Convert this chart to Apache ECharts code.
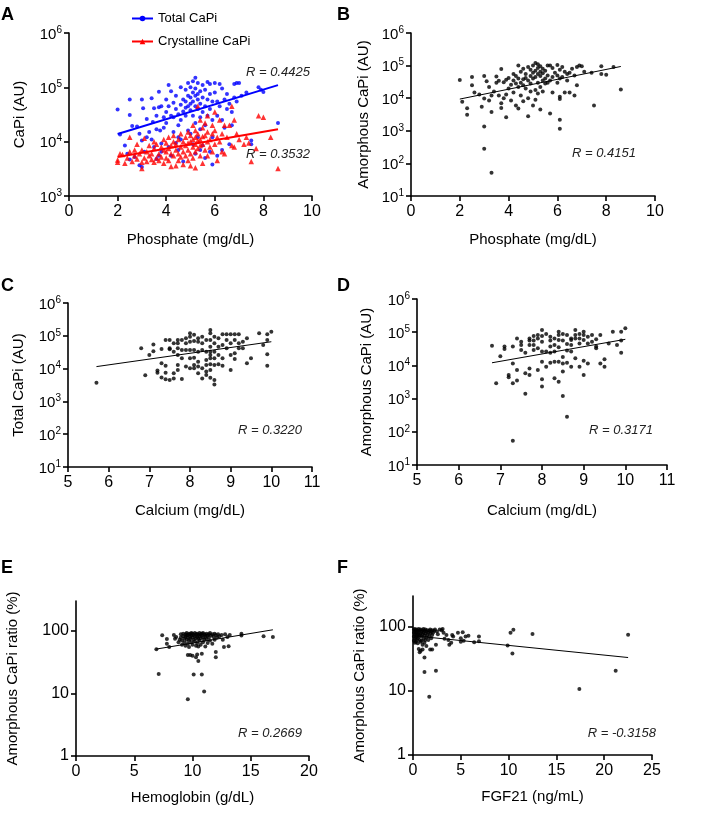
<!DOCTYPE html>
<html><head><meta charset="utf-8">
<script src="https://cdn.jsdelivr.net/npm/echarts@6/dist/echarts.min.js"></script>
<style>html,body{margin:0;padding:0;background:#fff}#c{width:709px;height:813px}</style>
</head><body><div id="c"></div>
<script>
// ---------- DATA ----------
// Panel A: Total CaPi vs phosphate
const totalVsPhosphate = [[2.0,39000],[2.1,13500],[2.3,8500],[2.4,6000],[2.5,60000],[2.5,31000],[2.6,19500],[2.5,4700],[2.8,19000],[2.9,14000],[3.0,60000],[3.0,10500],[2.9,3700],[3.0,3400],[3.05,41000],[2.7,5200],[3.1,6500],[3.2,12000],
[3.4,63000],[3.5,41000],[3.45,23000],[3.6,17000],[3.7,83000],[3.7,43000],[3.8,45000],[3.8,9300],[3.6,4800],[3.7,5500],[3.3,15000],[3.9,28000],[3.9,18000],[3.5,8000],[3.4,11000],[3.6,30000],[3.75,16000],[3.8,6500],[3.2,26000],
[4.0,60000],[4.1,45000],[4.1,110000],[4.2,85000],[4.0,35000],[4.2,30000],[4.3,52000],[4.3,28000],[4.4,40000],[4.4,70000],[4.5,32000],[4.5,20000],[4.5,12000],[4.6,100000],[4.6,48000],[4.6,25000],[4.7,60000],[4.7,36000],[4.7,4300],[4.8,90000],[4.8,55000],[4.8,42000],[4.8,30000],[4.9,120000],[4.9,70000],[4.9,45000],[4.9,16000],[4.4,9500],[4.2,5500],[4.5,7000],[4.3,15000],[4.0,22000],[4.1,8000],[4.6,11000],
[5.0,100000],[5.0,65000],[5.0,50000],[5.0,38000],[5.1,130000],[5.1,80000],[5.1,55000],[5.1,30000],[5.2,150000],[5.2,95000],[5.2,70000],[5.2,45000],[5.2,22000],[5.3,120000],[5.3,75000],[5.3,60000],[5.3,40000],[5.3,12000],[5.4,85000],[5.4,50000],[5.4,28000],[5.4,17000],[5.5,110000],[5.5,65000],[5.5,35000],[5.5,8500],[5.6,90000],[5.6,45000],[5.6,20000],[5.7,125000],[5.7,60000],[5.7,30000],[5.8,115000],[5.8,75000],[5.8,40000],[5.9,55000],[5.9,25000],[5.9,12000],[5.0,14000],[5.1,9000],[5.2,6000],[5.4,7000],[5.6,5000],[5.8,6500],[5.9,3800],
[6.0,120000],[6.0,80000],[6.1,55000],[6.1,30000],[6.1,5500],[6.2,115000],[6.2,45000],[6.3,95000],[6.3,25000],[6.4,60000],[6.4,18000],[6.5,75000],[6.5,40000],[6.6,50000],[6.7,20000],[6.7,35000],[6.8,115000],[6.8,65000],[6.9,120000],[6.9,55000],[7.0,120000],[6.6,9000],[6.3,7000],
[7.1,70000],[7.3,80000],[7.5,10500],[7.5,9000],[7.8,100000],[7.9,90000],[8.0,82000],[8.6,22000]];
// Panel A: Crystalline CaPi vs phosphate
const crystVsPhosphate = [[2.0,4200],[2.0,4600],[2.1,6000],[2.2,5800],[2.3,4000],[2.4,5000],[2.5,12000],[2.5,6500],[2.6,4300],[2.7,5500],[2.7,7000],[2.8,4800],[2.8,9000],[2.9,6000],[3.0,3200],[3.0,4200],[3.0,7000],[3.1,5000],[3.1,11500],[3.2,6500],[3.2,4300],[3.3,5500],[3.3,8500],[3.4,4700],[3.4,6000],[3.5,7500],[3.5,4200],[3.5,10000],[3.6,5000],[3.6,9000],[3.7,6000],[3.7,4500],[3.8,8000],[3.8,5200],[3.9,7000],[3.9,11000],[3.9,4000],[4.0,6500],[4.0,9500],[4.0,5000],[4.1,12000],[4.1,7500],[4.1,4500],[4.2,8500],[4.2,6000],[4.2,3500],[4.3,10000],[4.3,5500],[4.3,13000],[4.4,7000],[4.4,3600],[4.4,9000],[4.5,6000],[4.5,11000],[4.5,4500],[4.6,8000],[4.6,5200],[4.6,14000],[4.7,10000],[4.7,6500],[4.7,3800],[4.8,12000],[4.8,8500],[4.8,5500],[4.9,15000],[4.9,9500],[4.9,7000],[4.9,4500],[5.0,13000],[5.0,10000],[5.0,6000],[5.0,3600],[5.1,20000],[5.1,11000],[5.1,8000],[5.1,5000],[5.2,16000],[5.2,12000],[5.2,9000],[5.2,6500],[5.2,3300],[5.3,45000],[5.3,14000],[5.3,10500],[5.3,7500],[5.4,25000],[5.4,11000],[5.4,8500],[5.4,5500],[5.5,18000],[5.5,12500],[5.5,9000],[5.5,4000],[5.6,22000],[5.6,13000],[5.6,7000],[5.7,30000],[5.7,15000],[5.7,10000],[5.7,5500],[5.8,11000],[5.8,8000],[5.9,20000],[5.9,14000],[5.9,6500],[6.0,35000],[6.0,16000],[6.0,9000],[6.1,12000],[6.1,4500],[6.2,25000],[6.2,10000],[6.3,14000],[6.3,6500],[6.4,20000],[6.4,6000],[6.5,12000],[6.6,20000],[6.7,45000],[6.7,8500],[6.8,25000],[6.8,8000],[6.9,14000],[7.0,11000],[7.2,9000],[7.3,12000],[7.4,9500],[7.5,4300],[7.7,7500],[7.8,30000],[8.0,28000],[8.3,12000],[8.6,3200]];
const trendTotalPhos = [[2.0,13800],[8.6,110000]];
const trendCrystPhos = [[2.0,5200],[8.6,17000]];

// Panel B: Amorphous CaPi vs phosphate
const amorVsPhosphate = [[2.0,36000],[2.1,7800],[2.3,4900],[2.3,3100],[2.5,45000],[2.5,25000],[2.6,15000],[2.8,13000],[2.9,5500],[3.0,48000],[3.0,9800],[3.0,1350],[3.0,280],[3.1,33000],[3.2,22000],[3.3,12000],[3.3,3800],[3.3,52],[3.2,8500],[3.4,16000],[3.5,46000],[3.5,30000],[3.6,34000],[3.6,12000],[3.7,78000],[3.7,7000],[3.7,5000],[3.8,31000],[3.8,10000],[3.9,37000],[3.9,2600],[3.9,13000],[4.0,42000],[4.0,20000],[4.1,26000],[4.1,8500],[4.2,55000],[4.2,35000],[4.2,15000],[4.3,48000],[4.3,28000],[4.3,6000],[4.4,100000],[4.4,40000],[4.4,22000],[4.4,4800],[4.5,65000],[4.5,30000],[4.5,12000],[4.6,80000],[4.6,38000],[4.6,25000],[4.6,8000],[4.7,55000],[4.7,42000],[4.7,20000],[4.8,90000],[4.8,35000],[4.8,2800],[4.8,10000],[4.9,75000],[4.9,48000],[4.9,28000],[4.9,16000],[5.0,100000],[5.0,60000],[5.0,40000],[5.0,6000],[5.1,120000],[5.1,70000],[5.1,45000],[5.1,18000],[5.1,9000],[5.2,110000],[5.2,85000],[5.2,55000],[5.2,30000],[5.2,14000],[5.3,95000],[5.3,65000],[5.3,48000],[5.3,22000],[5.3,4500],[5.4,80000],[5.4,58000],[5.4,35000],[5.4,16000],[5.5,70000],[5.5,40000],[5.5,28000],[5.6,100000],[5.6,50000],[5.6,30000],[5.7,100000],[5.7,35000],[5.7,3400],[5.8,85000],[5.8,45000],[5.8,15000],[5.9,60000],[6.0,105000],[6.0,50000],[6.0,30000],[6.1,75000],[6.1,40000],[6.1,11000],[6.1,9500],[6.1,2200],[6.1,1150],[6.2,90000],[6.2,45000],[6.3,65000],[6.3,15000],[6.4,55000],[6.4,35000],[6.5,60000],[6.5,15000],[6.6,80000],[6.7,50000],[6.7,12000],[6.8,25000],[6.8,90000],[6.9,100000],[7.0,95000],[7.1,65000],[7.4,60000],[7.5,6000],[7.8,95000],[7.8,55000],[8.0,52000],[8.3,90000],[8.6,18500]];
const trendAmorPhos = [[2.0,9400],[8.6,94000]];

// Panel C: Total CaPi vs calcium
const totalVsCalcium = [[5.7,3700],[6.8,42000],[6.9,6300],[7.0,26000],[7.1,54000],[7.1,34000],[7.2,8700],[7.2,7500],[7.3,39600],[7.3,14500],[7.3,5400],[7.4,74500],[7.4,12300],[7.4,7500],[7.4,4700],[7.5,74500],[7.5,41500],[7.5,38700],[7.5,4500],[7.6,59000],[7.6,32800],[7.6,7200],[7.6,5000],[7.7,74500],[7.7,59000],[7.7,41500],[7.7,26000],[7.7,12900],[7.7,9100],[7.8,74500],[7.8,36900],[7.8,20600],[7.8,4800],[7.9,84000],[7.9,59000],[7.9,36900],[7.9,11500],[8.0,119000],[8.0,94000],[8.0,66000],[8.0,36900],[8.0,20600],[8.0,10200],[8.1,108000],[8.1,69500],[8.1,36900],[8.1,21500],[8.1,12900],[8.1,10200],[8.2,84000],[8.2,66000],[8.2,32800],[8.2,16300],[8.2,11500],[8.2,7200],[8.3,94000],[8.3,59000],[8.3,36900],[8.3,10200],[8.3,5000],[8.4,74500],[8.4,32800],[8.4,18300],[8.4,12900],[8.4,8100],[8.4,6400],[8.5,150000],[8.5,119000],[8.5,74500],[8.5,46700],[8.5,32800],[8.5,26000],[8.5,20600],[8.5,13500],[8.5,9100],[8.5,5300],[8.6,4500],[8.6,3300],[8.6,94000],[8.6,59000],[8.6,32800],[8.6,20600],[8.6,12900],[8.7,84000],[8.7,46700],[8.7,26000],[8.7,13500],[8.8,111000],[8.8,52000],[8.8,20600],[8.8,12300],[8.9,111000],[8.9,74500],[8.9,41500],[9.0,111000],[9.0,59000],[9.0,26000],[9.0,9100],[9.1,111000],[9.1,74500],[9.1,29200],[9.1,19600],[9.2,111000],[9.2,59000],[9.2,41500],[9.3,66000],[9.3,41500],[9.4,84000],[9.4,14500],[9.5,20600],[9.7,119000],[9.8,52000],[9.9,111000],[9.9,74500],[9.9,27200],[9.9,12300],[10.0,134000]];
const trendTotalCa = [[5.7,11500],[10.0,66000]];

// Panel D: Amorphous CaPi vs calcium
const amorVsCalcium = [[6.8,39000],[6.9,2900],[7.0,19000],[7.1,37000],[7.1,31000],[7.2,5100],[7.2,4400],[7.3,37000],[7.3,11500],[7.3,2900],[7.4,3500],[7.4,65000],[7.4,7300],[7.5,52000],[7.5,41000],[7.5,29000],[7.6,24000],[7.6,5800],[7.6,1400],[7.7,65000],[7.7,56000],[7.7,41000],[7.7,8100],[7.7,5100],[7.8,77000],[7.8,56000],[7.8,41000],[7.8,29000],[7.9,82000],[7.9,65000],[7.9,33000],[7.9,7300],[8.0,116000],[8.0,77000],[8.0,52000],[8.0,26000],[8.0,12900],[8.0,3800],[8.0,2300],[8.1,88000],[8.1,26000],[8.1,9100],[8.2,73000],[8.2,56000],[8.2,37000],[8.2,24000],[8.2,12100],[8.3,65000],[8.3,41000],[8.3,26000],[8.3,12900],[8.3,4100],[8.4,104000],[8.4,82000],[8.4,58000],[8.4,35000],[8.4,12900],[8.4,3200],[8.5,88000],[8.5,56000],[8.5,18000],[8.5,11500],[8.5,6500],[8.5,1200],[8.6,82000],[8.6,44000],[8.6,28000],[8.6,12100],[8.6,285],[8.7,65000],[8.7,58000],[8.7,41000],[8.7,26000],[8.7,9100],[8.8,116000],[8.8,82000],[8.8,65000],[8.8,16300],[8.9,88000],[8.9,65000],[8.9,46000],[8.9,9100],[9.0,104000],[9.0,82000],[9.0,58000],[9.0,5100],[9.0,13900],[9.1,73000],[9.1,46000],[9.1,11500],[9.2,82000],[9.2,52000],[9.3,61000],[9.3,37000],[9.3,33000],[9.4,82000],[9.4,11500],[9.5,15200],[9.5,9100],[9.6,46000],[9.7,104000],[9.8,41000],[9.9,104000],[9.9,56000],[9.9,24000],[10.0,131000],[7.3,54]];
const trendAmorCa = [[6.8,12000],[10.0,61000]];

// Panel E: Amorphous CaPi ratio vs hemoglobin
const ratioVsHb = [[6.9,51],[7.1,20.5],[7.4,85],[7.8,74],[7.8,62],[8.0,55],[8.4,86],[8.5,75],[8.6,80],[8.8,66],[8.9,72],[9.0,88],[9.0,78],[9.1,70],[9.1,60],[9.2,90],[9.2,82],[9.3,75],[9.3,65],[9.4,88],[9.4,80],[9.4,58],[9.5,92],[9.5,84],[9.5,72],[9.6,86],[9.6,78],[9.6,62],[9.6,41],[9.6,8.1],[9.7,90],[9.7,70],[9.7,55],[9.8,88],[9.8,80],[9.8,74],[9.8,41],[9.9,92],[9.9,84],[9.9,66],[10.0,90],[10.0,78],[10.0,60],[10.0,40],[10.1,86],[10.1,72],[10.1,20],[10.2,92],[10.2,82],[10.2,68],[10.3,88],[10.3,76],[10.3,58],[10.3,38],[10.4,90],[10.4,80],[10.4,64],[10.4,42],[10.5,86],[10.5,74],[10.5,56],[10.5,33],[10.6,92],[10.6,82],[10.6,70],[10.7,88],[10.7,76],[10.7,60],[10.8,90],[10.8,84],[10.8,20],[10.8,43],[10.9,92],[10.9,78],[10.9,66],[11.0,88],[11.0,72],[11.0,10.7],[11.1,86],[11.1,80],[11.1,56],[11.2,90],[11.2,74],[11.3,84],[11.3,64],[11.4,88],[11.4,78],[11.5,92],[11.5,70],[11.6,84],[11.7,88],[11.7,62],[11.8,80],[11.9,90],[11.9,72],[12.0,86],[12.0,46],[12.0,38],[12.1,78],[12.2,88],[12.3,82],[12.5,86],[12.6,72],[12.7,55],[12.8,88],[13.0,80],[13.1,57],[13.2,86],[14.2,90],[14.2,84],[16.1,82],[16.9,80]];
const trendRatioHb = [[6.85,51],[16.9,104]];

// Panel F: Amorphous CaPi ratio vs FGF21
const ratioVsFgf21 = [[0.1,90],[0.1,80],[0.1,70],[0.1,60],[0.2,92],[0.2,85],[0.2,75],[0.2,65],[0.2,56],[0.3,88],[0.3,78],[0.3,68],[0.3,58],[0.4,90],[0.4,82],[0.4,72],[0.4,62],[0.5,86],[0.5,76],[0.5,66],[0.5,55],[0.6,92],[0.6,80],[0.6,70],[0.6,45],[0.7,88],[0.7,74],[0.7,62],[0.7,40],[0.8,90],[0.8,78],[0.8,58],[0.8,42],[0.9,84],[0.9,70],[0.9,60],[1.0,88],[1.0,76],[1.0,52],[1.0,44],[1.1,92],[1.1,80],[1.1,64],[1.2,86],[1.2,72],[1.2,56],[1.2,33],[1.2,19.6],[1.3,90],[1.3,78],[1.3,62],[1.4,84],[1.4,68],[1.4,50],[1.5,88],[1.5,74],[1.6,80],[1.6,62],[1.7,8.1],[1.7,86],[1.7,70],[1.8,90],[1.8,78],[1.8,44],[1.9,84],[1.9,66],[2.0,88],[2.0,74],[2.0,44],[2.1,80],[2.2,86],[2.3,90],[2.4,52],[2.4,20.5],[2.5,84],[2.6,76],[2.8,90],[3.0,88],[3.1,92],[3.2,80],[3.3,65],[3.5,74],[3.7,62],[3.8,52],[4.0,56],[4.1,74],[4.2,70],[4.7,80],[5.0,66],[5.0,58],[5.2,82],[5.3,60],[5.5,70],[5.8,72],[6.4,57],[6.9,70],[6.9,59],[9.9,51],[10.2,80],[10.4,38],[10.5,89],[12.5,77],[17.4,10.7],[21.2,20.5],[22.5,75]];
const trendRatioFgf = [[0.1,72],[22.5,33]];

// Labels
const panelLetters = ['A','B','C','D','E','F'];
const rLabels = ['R = 0.4425','R = 0.3532','R = 0.4151','R = 0.3220','R = 0.3171','R = 0.2669','R = -0.3158'];

// ---------- CHART ----------
const FONT = '"Liberation Sans", Arial, Helvetica, sans-serif';
const chart = echarts.init(document.getElementById('c'), null, {renderer: 'canvas'});

const grids = [
  {left: 69,  top: 33,  width: 243, height: 163},
  {left: 411, top: 33,  width: 244, height: 163},
  {left: 68,  top: 303, width: 244, height: 164},
  {left: 417, top: 299, width: 250, height: 166},
  {left: 76,  top: 601, width: 233, height: 155},
  {left: 413, top: 596, width: 239, height: 159}
];

const lineStyleAxis = {color: '#000', width: 1.6};
function mkX(i, min, max, interval, name, gap) {
  return {
    gridIndex: i, type: 'value', min: min, max: max, interval: interval,
    name: name, nameLocation: 'middle', nameGap: gap,
    nameTextStyle: {fontFamily: FONT, fontSize: 15, color: '#000'},
    axisLine: {show: true, lineStyle: lineStyleAxis},
    axisTick: {show: true, length: 5, lineStyle: lineStyleAxis},
    axisLabel: {fontFamily: FONT, fontSize: 16, color: '#000', margin: 8},
    splitLine: {show: false}
  };
}
function supLabel(v) {
  const e = Math.round(Math.log10(v));
  return '{b|10}{s|' + e + '}';
}
function mkYPow(i, min, max, decades, name, gap) {
  return {
    gridIndex: i, type: 'log', logBase: 10, min: min, max: max, splitNumber: decades,
    name: name, nameLocation: 'middle', nameGap: gap,
    nameTextStyle: {fontFamily: FONT, fontSize: 15, color: '#000'},
    axisLine: {show: true, lineStyle: lineStyleAxis},
    axisTick: {show: true, length: 5, lineStyle: lineStyleAxis},
    minorTick: {show: false},
    axisLabel: {
      formatter: supLabel, margin: 7,
      rich: {
        b: {fontFamily: FONT, fontSize: 15, color: '#000', verticalAlign: 'bottom', lineHeight: 18},
        s: {fontFamily: FONT, fontSize: 10, color: '#000', verticalAlign: 'bottom', lineHeight: 18, padding: [0, 0, 7, 0]}
      }
    },
    splitLine: {show: false}
  };
}
function mkYRatio(i, name, gap) {
  return {
    gridIndex: i, type: 'log', logBase: 10, min: 1, max: 300,
    name: name, nameLocation: 'middle', nameGap: gap,
    nameTextStyle: {fontFamily: FONT, fontSize: 15, color: '#000'},
    axisLine: {show: true, lineStyle: lineStyleAxis},
    axisTick: {show: true, length: 5, lineStyle: lineStyleAxis, customValues: [1, 10, 100]},
    axisLabel: {fontFamily: FONT, fontSize: 16, color: '#000', margin: 7, customValues: [1, 10, 100]},
    splitLine: {show: false}
  };
}

function scatter(name, xi, data, color, symbol, size) {
  return {name: name, type: 'scatter', xAxisIndex: xi, yAxisIndex: xi, data: data,
    symbol: symbol, symbolSize: size, itemStyle: {color: color}, z: 2, silent: true};
}
function trend(name, xi, data, color, width, sym) {
  return {name: name, type: 'line', xAxisIndex: xi, yAxisIndex: xi, data: data,
    symbol: sym || 'none', symbolSize: 5, showSymbol: false,
    lineStyle: {color: color, width: width}, itemStyle: {color: color}, z: 3, silent: true, animation: false};
}

const graphics = [];
const letterPos = [[1,6],[337,6],[1,277],[337,277],[1,559],[337,559]];
panelLetters.forEach((t, k) => graphics.push({type: 'text', x: letterPos[k][0], y: letterPos[k][1],
  style: {text: t, font: 'bold 18px ' + FONT, fill: '#000'}}));
const rPos = [[310,72],[310,154],[636,153],[302,430],[653,430],[302,733],[656,733]];
rLabels.forEach((t, k) => graphics.push({type: 'text', x: rPos[k][0], y: rPos[k][1],
  style: {text: t, font: 'italic 13px ' + FONT, fill: '#222', align: 'right', verticalAlign: 'middle'}}));

chart.setOption({
  animation: false,
  backgroundColor: '#fff',
  grid: grids,
  legend: {
    data: ['Total CaPi', 'Crystalline CaPi'], orient: 'vertical', left: 126, top: 7,
    itemWidth: 21, itemHeight: 7, itemGap: 10,
    textStyle: {fontFamily: FONT, fontSize: 13, color: '#000'}
  },
  xAxis: [
    mkX(0, 0, 10, 2, 'Phosphate (mg/dL)', 36),
    mkX(1, 0, 10, 2, 'Phosphate (mg/dL)', 36),
    mkX(2, 5, 11, 1, 'Calcium (mg/dL)', 36),
    mkX(3, 5, 11, 1, 'Calcium (mg/dL)', 38),
    mkX(4, 0, 20, 5, 'Hemoglobin (g/dL)', 34),
    mkX(5, 0, 25, 5, 'FGF21 (ng/mL)', 34)
  ],
  yAxis: [
    mkYPow(0, 1000, 1000000, 3, 'CaPi (AU)', 42),
    mkYPow(1, 10, 1000000, 5, 'Amorphous CaPi (AU)', 40),
    mkYPow(2, 10, 1000000, 5, 'Total CaPi (AU)', 42),
    mkYPow(3, 10, 1000000, 5, 'Amorphous CaPi (AU)', 43),
    mkYRatio(4, 'Amorphous CaPi ratio (%)', 56),
    mkYRatio(5, 'Amorphous CaPi ratio (%)', 46)
  ],
  graphic: graphics,
  series: [
    trend('Total CaPi', 0, trendTotalPhos, '#0000ff', 2, 'circle'),
    trend('Crystalline CaPi', 0, trendCrystPhos, '#ff0000', 2, 'triangle'),
    scatter('Total CaPi', 0, totalVsPhosphate, '#0000ff', 'circle', 4),
    scatter('Crystalline CaPi', 0, crystVsPhosphate, '#ff0000', 'triangle', 5.5),
    scatter('Amorphous CaPi', 1, amorVsPhosphate, '#000', 'circle', 4),
    trend('Amorphous fit B', 1, trendAmorPhos, '#000', 1),
    scatter('Total CaPi (Ca)', 2, totalVsCalcium, '#000', 'circle', 4),
    trend('Total fit C', 2, trendTotalCa, '#000', 1),
    scatter('Amorphous CaPi (Ca)', 3, amorVsCalcium, '#000', 'circle', 4),
    trend('Amorphous fit D', 3, trendAmorCa, '#000', 1),
    scatter('Ratio (Hb)', 4, ratioVsHb, '#000', 'circle', 4),
    trend('Ratio fit E', 4, trendRatioHb, '#000', 1),
    scatter('Ratio (FGF21)', 5, ratioVsFgf21, '#000', 'circle', 4),
    trend('Ratio fit F', 5, trendRatioFgf, '#000', 1)
  ]
});
</script>
</body></html>
